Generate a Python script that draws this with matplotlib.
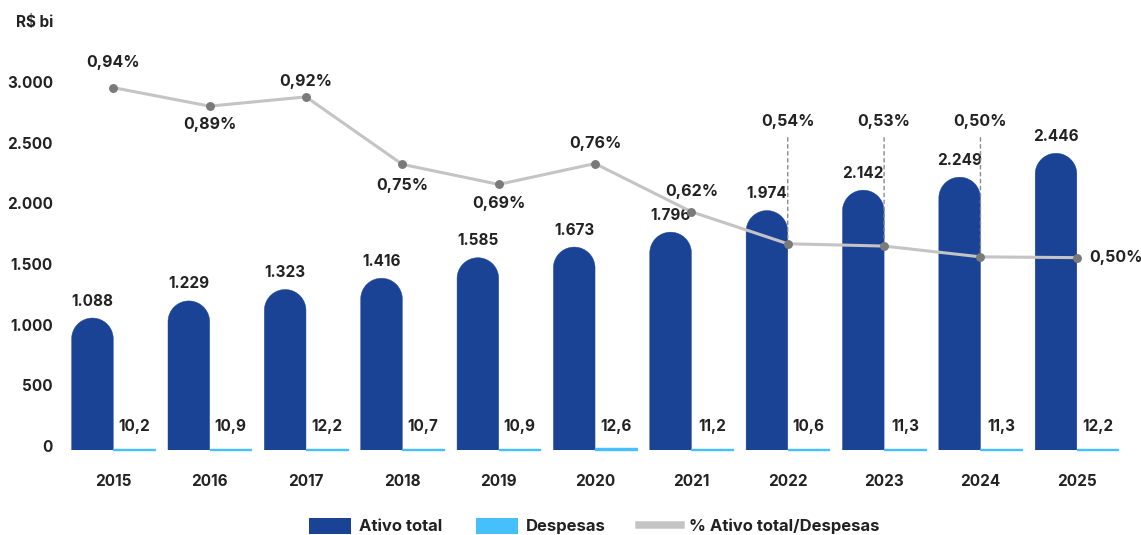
import matplotlib
matplotlib.use('Agg')
import matplotlib.pyplot as plt
from matplotlib.patches import Polygon, Patch
from matplotlib.lines import Line2D
from matplotlib.transforms import ScaledTranslation
import numpy as np

years = ['2015', '2016', '2017', '2018', '2019', '2020', '2021', '2022', '2023', '2024', '2025']
ativo = [1088, 1229, 1323, 1416, 1585, 1673, 1796, 1974, 2142, 2249, 2446]
ativo_labels = ['1.088', '1.229', '1.323', '1.416', '1.585', '1.673', '1.796', '1.974', '2.142', '2.249', '2.446']
despesas = [10.2, 10.9, 12.2, 10.7, 10.9, 12.6, 11.2, 10.6, 11.3, 11.3, 12.2]
despesas_labels = ['10,2', '10,9', '12,2', '10,7', '10,9', '12,6', '11,2', '10,6', '11,3', '11,3', '12,2']
pct = [0.940, 0.892, 0.916, 0.741, 0.689, 0.743, 0.618, 0.535, 0.529, 0.501, 0.499]
pct_labels = ['0,94%', '0,89%', '0,92%', '0,75%', '0,69%', '0,76%', '0,62%', '0,54%', '0,53%', '0,50%', '0,50%']
yticks = [0, 500, 1000, 1500, 2000, 2500, 3000]
ytick_labels = ['0', '500', '1.000', '1.500', '2.000', '2.500', '3.000']

# label placement styles (pixel offsets) for the percentage labels
pct_place = ['up', 'down', 'up', 'down', 'down', 'up', 'up', 'top', 'top', 'top', 'right']
pct_dy = [25, -18, 15, -21, -19, 20, 20, 0, 0, 0, 0]

BLUE = '#1a4396'
LIGHT = '#45c0fa'
GRAY_LINE = '#c4c4c4'
GRAY_DOT = '#7a7a7a'
TXT = '#222222'

plt.rcParams['font.family'] = ['Inter', 'DejaVu Sans']
plt.rcParams['font.weight'] = 'bold'

W, H = 1141, 535
fig = plt.figure(figsize=(W / 100, H / 100), dpi=100)
ax = fig.add_axes([62 / W, 85 / H, (1130 - 62) / W, 410 / H])
ax2 = ax.twinx()

n = len(years)
x = np.arange(n)
w = 0.432
ax.set_xlim(-0.532, 10.552)
ax.set_ylim(0, 3380)
ax2.set_ylim(0, 410 / 385.5)

# pixel scale of the data axes, to make round (semicircular) bar tops
p0 = ax.transData.transform((0, 0))
p1 = ax.transData.transform((1, 1))
sx, sy = p1[0] - p0[0], p1[1] - p0[1]
rx = w / 2
ry = (rx * sx) / sy

t = np.linspace(0, np.pi, 60)
for xi, v in zip(x - w / 2, ativo):
    top = v - ry
    arc = np.column_stack([xi + rx * np.cos(t), top + ry * np.sin(t)])
    verts = np.vstack([[[xi - rx, 0], [xi + rx, 0], [xi + rx, top]], arc, [[xi - rx, top]]])
    ax.add_patch(Polygon(verts, closed=True, facecolor=BLUE, edgecolor=BLUE, linewidth=0.3, zorder=2))

ax.bar(x + w / 2, despesas, width=w, color=LIGHT, edgecolor=LIGHT, linewidth=1.0, zorder=2, clip_on=False)

for xi, v, lab in zip(x, ativo, ativo_labels):
    ax.annotate(lab, (xi - w / 2, v), xytext=(0, 17), textcoords='offset pixels',
                ha='center', va='center', fontsize=11, color=TXT, zorder=5)
for xi, v, lab in zip(x, despesas, despesas_labels):
    ax.annotate(lab, (xi + w / 2, v), xytext=(0, 22), textcoords='offset pixels',
                ha='center', va='center', fontsize=11, color=TXT, zorder=5)

ax2.plot(x, pct, color=GRAY_LINE, lw=2.2, marker='o', ms=5.4, mfc=GRAY_DOT, mec=GRAY_DOT, zorder=3)

for xi, v, lab, pl, dy in zip(x, pct, pct_labels, pct_place, pct_dy):
    if pl in ('up', 'down'):
        ax2.annotate(lab, (xi, v), xytext=(0, dy), textcoords='offset pixels',
                     ha='center', va='center', fontsize=11.5, color=TXT)
    elif pl == 'top':
        ax2.annotate('', xy=(xi, v), xycoords='data', xytext=(xi, 0.7617),
                     textcoords=('data', 'axes fraction'),
                     arrowprops=dict(arrowstyle='-', color='#8a8a8a', lw=1.0,
                                     linestyle=(0, (2.5, 2.5)), shrinkA=0, shrinkB=3))
        ax2.annotate(lab, (xi, 0.8007), xycoords=('data', 'axes fraction'),
                     ha='center', va='center', fontsize=11.5, color=TXT)
    else:
        ax2.annotate(lab, (xi, v), xytext=(12, 0), textcoords='offset pixels',
                     ha='left', va='center', fontsize=11.5, color=TXT, annotation_clip=False)

ax.set_yticks(yticks)
ax.set_yticklabels(ytick_labels)
ax.set_xticks(x)
ax.set_xticklabels(years)
ax.tick_params(axis='y', length=0, pad=6.5, labelsize=11, labelcolor=TXT)
ax.tick_params(axis='x', length=0, pad=17, labelsize=11, labelcolor=TXT)
shift = ScaledTranslation(0, 4 / 100, fig.dpi_scale_trans)
for lbl in ax.get_yticklabels():
    lbl.set_transform(lbl.get_transform() + shift)
ax2.set_yticks([])
for a in (ax, ax2):
    for s in a.spines.values():
        s.set_visible(False)
ax.patch.set_visible(False)

fig.text(53 / W, 1 - 22 / H, 'R$ bi', ha='right', va='center', fontsize=11, color=TXT)

handles = [Patch(facecolor=BLUE, edgecolor='none'),
           Patch(facecolor=LIGHT, edgecolor='none'),
           Line2D([0], [0], color=GRAY_LINE, lw=5.4)]
labels = ['Ativo total', 'Despesas', '% Ativo total/Despesas']
fig.legend(handles, labels, loc='center', bbox_to_anchor=(594.5 / W, 1 - 526 / H), ncol=3,
           frameon=False, handlelength=2.5, handleheight=1.1, handletextpad=0.5,
           columnspacing=2.0, fontsize=12, borderpad=0, borderaxespad=0, labelcolor=TXT)

fig.savefig('out.png', dpi=100)
